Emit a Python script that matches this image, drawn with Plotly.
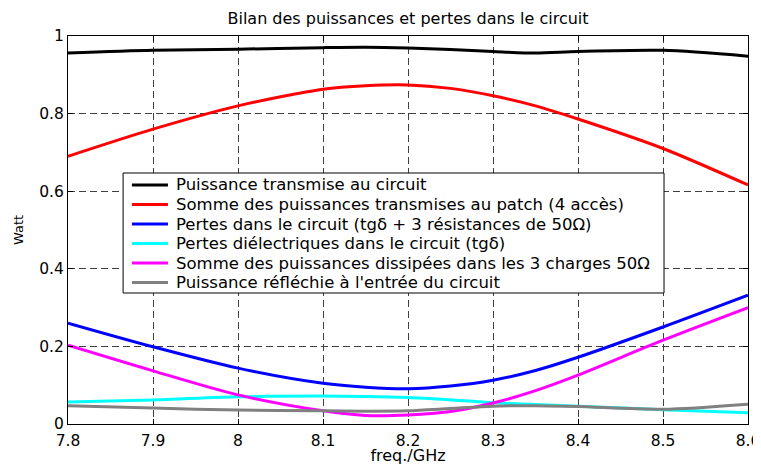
import plotly.graph_objects as go

freq = [7.8, 7.9, 8.0, 8.1, 8.15, 8.2, 8.25, 8.3, 8.35, 8.4, 8.5, 8.6]

p_circuit = [0.956, 0.963, 0.966, 0.970, 0.971, 0.969, 0.965, 0.960, 0.956, 0.960, 0.963, 0.948]
p_patch = [0.690, 0.760, 0.820, 0.863, 0.872, 0.874, 0.865, 0.846, 0.820, 0.786, 0.710, 0.616]
p_pertes = [0.260, 0.199, 0.144, 0.105, 0.095, 0.091, 0.098, 0.113, 0.138, 0.172, 0.250, 0.332]
p_diel = [0.057, 0.062, 0.070, 0.072, 0.071, 0.068, 0.062, 0.055, 0.050, 0.046, 0.037, 0.029]
p_charges = [0.203, 0.137, 0.075, 0.034, 0.022, 0.023, 0.032, 0.054, 0.086, 0.126, 0.216, 0.300]
p_refl = [0.047, 0.041, 0.036, 0.034, 0.033, 0.034, 0.040, 0.046, 0.047, 0.045, 0.038, 0.051]

names = [
    "Puissance transmise au circuit",
    "Somme des puissances transmises au patch (4 accès)",
    "Pertes dans le circuit (tgδ + 3 résistances de 50Ω)",
    "Pertes diélectriques dans le circuit (tgδ)",
    "Somme des puissances dissipées dans les 3 charges 50Ω",
    "Puissance réfléchie à l'entrée du circuit",
]
series = [p_circuit, p_patch, p_pertes, p_diel, p_charges, p_refl]
colors = ["#000000", "#ff0000", "#0000ff", "#00ffff", "#ff00ff", "#808080"]

x_ticks = [7.8, 7.9, 8.0, 8.1, 8.2, 8.3, 8.4, 8.5, 8.6]
x_labels = ["7.8", "7.9", "8", "8.1", "8.2", "8.3", "8.4", "8.5", "8.6"]
y_ticks = [0, 0.2, 0.4, 0.6, 0.8, 1]
y_labels = ["0", "0.2", "0.4", "0.6", "0.8", "1"]

font = "DejaVu Sans, Verdana, sans-serif"

fig = go.Figure()
for n, s, c in zip(names, series, colors):
    fig.add_trace(go.Scatter(x=freq, y=s, name=n, mode="lines", showlegend=False,
                             line=dict(color=c, width=3, shape="spline", smoothing=0.8)))

# Legend box drawn in paper coordinates (MATLAB-like legend)
box_x0, box_x1, box_y0, box_y1 = 0.081, 0.8765, 0.3376, 0.6469
fig.add_shape(type="rect", xref="paper", yref="paper", x0=box_x0, x1=box_x1,
              y0=box_y0, y1=box_y1, line=dict(color="black", width=1),
              fillcolor="white", layer="above")
row_top, row_step = 0.616, 0.0503
for i, (n, c) in enumerate(zip(names, colors)):
    yy = row_top - i * row_step
    fig.add_shape(type="line", xref="paper", yref="paper", x0=0.094, x1=0.147,
                  y0=yy, y1=yy, line=dict(color=c, width=3), layer="above")
    fig.add_annotation(xref="paper", yref="paper", x=0.1559, y=yy, text=n,
                       showarrow=False, xanchor="left", yanchor="middle",
                       font=dict(family=font, size=16.5, color="black"))

axis_common = dict(
    showline=True, linecolor="black", linewidth=1, mirror="ticks",
    ticks="inside", ticklen=5, tickcolor="black",
    showgrid=True, gridcolor="#404040", griddash="7px,4px", gridwidth=1,
    zeroline=False, automargin=False, ticklabeloverflow="allow",
    tickfont=dict(family=font, size=15.5, color="black"),
)
fig.update_xaxes(range=[7.8, 8.6], tickvals=x_ticks, ticktext=x_labels,
                 ticklabelstandoff=2,
                 title=dict(text="freq./GHz", font=dict(family=font, size=16, color="black"), standoff=4),
                 **axis_common)
fig.update_yaxes(range=[0, 1], tickvals=y_ticks, ticktext=y_labels,
                 title=dict(text="Watt", font=dict(family=font, size=13, color="black"), standoff=12),
                 **axis_common)

fig.update_layout(
    width=760, height=457,
    margin=dict(l=60, r=20, t=28, b=41),
    paper_bgcolor="white", plot_bgcolor="white",
    title=dict(text="Bilan des puissances et pertes dans le circuit",
               font=dict(family=font, size=16, color="black"),
               xref="paper", x=0.5, xanchor="center",
               yref="container", y=0.9766, yanchor="middle"),
    showlegend=False,
)

fig.write_html("out.html")
